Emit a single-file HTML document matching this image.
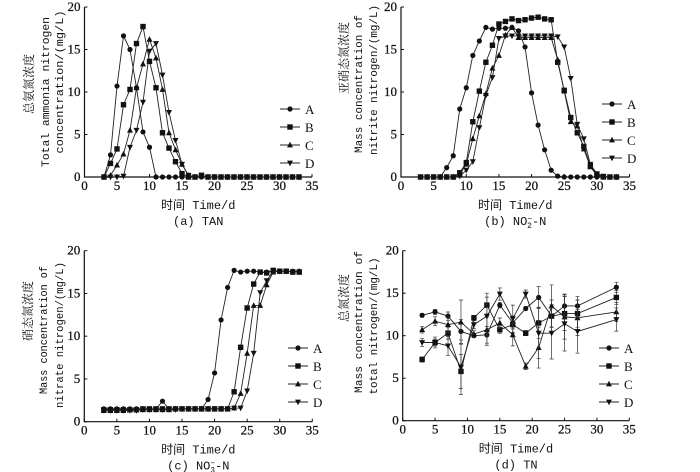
<!DOCTYPE html>
<html><head><meta charset="utf-8"><style>
body{margin:0;background:#fff}
svg{display:block}
text{font-family:"Liberation Serif","Noto Serif CJK SC",serif;fill:#111}
.m{font-family:"Liberation Mono","Noto Sans CJK SC",monospace}
.t{stroke:#111;stroke-width:0.25}
</style></head><body>
<svg id="c" width="700" height="472" viewBox="0 0 700 472" xmlns="http://www.w3.org/2000/svg"></svg>
<script>
const daysDaily = [3,4,5,6,7,8,9,10,11,12,13,14,15,16,17,18,19,20,21,22,23,24,25,26,27,28,29,30,31,32,33];
const daysTN = [3,5,7,9,11,13,15,17,19,21,23,25,27,33];
const seriesNames = ['A','B','C','D'];
const xTicks = [0,5,10,15,20,25,30,35];
const yTicks = [0,5,10,15,20];

const tanA = [0,2.6,10.7,16.6,15,10.5,5.3,3.5,0,0,0,0,0,0,0,0,0,0,0,0,0,0,0,0,0,0,0,0,0,0,0];
const tanB = [0,1.6,3.3,8.5,10.3,15.7,17.7,13.6,10.5,5.2,3.4,1.8,0.4,0,0,0.2,0,0,0,0,0,0,0,0,0,0,0,0,0,0,0];
const tanC = [0,0.2,1.4,2.7,5.5,10.5,13.3,16.2,14,10.3,5.2,3.2,1.5,0.2,0,0.1,0,0,0,0,0,0,0,0,0,0,0,0,0,0,0];
const tanD = [0,0,0,0.1,3.5,5.5,8.8,14.8,15.7,12,7.6,4.3,1.5,0.2,0,0.1,0,0,0,0,0,0,0,0,0,0,0,0,0,0,0];

const no2A = [0,0,0,0,1.1,2.5,8,10.5,14.3,16,17.6,17.4,17.5,17.5,17.6,17.2,15.3,9.9,6.1,3.2,0.8,0.1,0,0,0,0,0,0,0,0,0];
const no2B = [0,0,0,0,0,0,0.5,1.7,6.5,10.1,13.5,15.5,18,18.3,18.6,18.4,18.5,18.7,18.8,18.6,18.5,13.5,10.2,7,5.2,3.6,1.3,0.3,0,0,0];
const no2C = [0,0,0,0,0,0,0.3,1.5,4.5,7.2,9.8,12.8,14.3,16.7,17.6,16.4,16.4,16.4,16.4,16.4,16.4,13.8,10.1,6.5,6,3.3,1.2,0.2,0,0,0];
const no2D = [0,0,0,0,0,0,0.1,0.8,1.8,5.8,9.6,11.7,16.3,16.6,16.6,16.6,16.6,16.6,16.6,16.6,16.6,16.5,15.3,11.6,6.2,4.5,1.5,0.4,0.1,0,0];

const no3A = [1.5,1.5,1.5,1.5,1.5,1.5,1.5,1.5,1.5,2.4,1.5,1.5,1.5,1.5,1.5,1.5,2.6,5.7,11.9,15.7,17.7,17.5,17.6,17.6,17.5,17.5,17.6,17.6,17.6,17.6,17.6];
const no3B = [1.4,1.4,1.4,1.4,1.4,1.4,1.5,1.5,1.5,1.5,1.5,1.5,1.5,1.5,1.5,1.5,1.5,1.5,1.5,1.5,3.5,8.7,13.3,16.1,17.5,17.4,17.7,17.6,17.6,17.5,17.5];
const no3C = [1.3,1.3,1.3,1.3,1.4,1.4,1.4,1.4,1.4,1.4,1.4,1.5,1.5,1.5,1.5,1.5,1.5,1.5,1.5,1.5,1.6,3.3,8,13.6,13.6,16,17.5,17.6,17.6,17.5,17.5];
const no3D = [1.3,1.3,1.3,1.3,1.3,1.3,1.4,1.4,1.4,1.4,1.4,1.4,1.5,1.5,1.5,1.5,1.5,1.5,1.5,1.5,1.6,1.6,3.6,8,15.1,16.5,17.6,17.6,17.6,17.5,17.5];

const tnA = [12.4,12.8,12.3,10.5,10,10.1,13.6,11.5,13.2,14.5,12.3,13.5,13.5,15.7];
const tnB = [7.2,9.2,10.3,5.8,12.1,13.6,10.7,11.3,10.3,11.5,12.3,12.6,12.6,14.5];
const tnC = [10.7,11.7,11.3,11.6,10.2,10.7,11.5,10.1,6.4,8.6,13.5,12.2,12.1,12.8];
const tnD = [9.2,9.2,8.8,6.3,11.3,12.3,14.9,12,14.9,10.3,10.3,11.4,10.5,11.9];
const tnErr = [0.6,0.8,1.4,4,0.6,2.8,0.9,2,0.6,3.7,3.8,4,3.2,1.7];

const NS='http://www.w3.org/2000/svg';
const svg=document.getElementById('c');
function el(tag,attrs,parent){const e=document.createElementNS(NS,tag);for(const k in attrs)e.setAttribute(k,attrs[k]);(parent||svg).appendChild(e);return e;}
function txt(s,x,y,attrs,parent){const t=el('text',Object.assign({x:x,y:y},attrs||{}),parent);t.textContent=s;return t;}

function marker(g,type,x,y){
  let m;
  if(type==='A') m=el('circle',{cx:x,cy:y,r:2.6,fill:'#111'},g);
  else if(type==='B') m=el('rect',{x:x-2.7,y:y-2.7,width:5.4,height:5.4,fill:'#111'},g);
  else if(type==='C') m=el('polygon',{points:`${x},${y-3.2} ${x-3},${y+2.4} ${x+3},${y+2.4}`,fill:'#111'},g);
  else m=el('polygon',{points:`${x},${y+3.2} ${x-3},${y-2.4} ${x+3},${y-2.4}`,fill:'#111'},g);
  return m;
}

function panel(p){
  const g=el('g',{});
  
  
  const X=v=>p.x0+(v/35)*(p.x1-p.x0);
  const Y=v=>p.y0-(v/20)*(p.y0-p.y1);
  const ax=el('path',{d:`M${p.x0},${p.y1} L${p.x0},${p.y0} L${p.x1},${p.y0}`,stroke:'#111','stroke-width':1.2,fill:'none'},g);
  
  
  xTicks.forEach(t=>{
    el('line',{x1:X(t),x2:X(t),y1:p.y0,y2:p.y0-3,stroke:'#111','stroke-width':1},g);
    const l=txt(String(t),X(t),p.y0+13,{'font-size':13,'text-anchor':'middle',class:'t'},g);
    
    
  });
  yTicks.forEach(t=>{
    el('line',{x1:p.x0,x2:p.x0+3,y1:Y(t),y2:Y(t),stroke:'#111','stroke-width':1},g);
    const l=txt(String(t),p.x0-4,Y(t)+4,{'font-size':13,'text-anchor':'end',class:'t'},g);
    
    
  });
  p.series.forEach((s,i)=>{
    const sg=el('g',{},g);
    
    
    const pts=s.map((v,j)=>X(p.days[j])+','+Y(v)).join(' ');
    el('polyline',{points:pts,fill:'none',stroke:'#222','stroke-width':0.9},sg);
    s.forEach((v,j)=>{
      if(p.err){const e=p.err[j]*(0.35+0.15*i);const x=X(p.days[j]);
        el('path',{d:`M${x},${Y(v-e)} L${x},${Y(v+e)} M${x-2},${Y(v+e)} L${x+2},${Y(v+e)} M${x-2},${Y(v-e)} L${x+2},${Y(v-e)}`,stroke:'#333','stroke-width':0.7,fill:'none'},sg);}
      const m=marker(sg,seriesNames[i],X(p.days[j]),Y(v));
      
      
    });
  });
  seriesNames.forEach((n,i)=>{
    const ly=p.ly+i*18;
    const lg=el('g',{},g);
    
    
    el('line',{x1:p.lx,x2:p.lx+20,y1:ly,y2:ly,stroke:'#222','stroke-width':0.9},lg);
    marker(lg,n,p.lx+10,ly);
    txt(n,p.lx+25,ly+5,{'font-size':13},lg);
  });
  p.ytitle.forEach((s,i)=>{
    const L=p.tl[i];
    const attrs={'font-size':i===0?12:11,'text-anchor':'middle',class:i===0?'':'m',transform:`translate(${L[0]},${L[1]}) rotate(-90)`};
    if(i>0){attrs.textLength=L[3];attrs.lengthAdjust='spacingAndGlyphs';}
    const t=txt(s,0,0,attrs,g);
    
    
  });
  const xt=txt('时间 Time/d',(p.x0+p.x1)/2,p.y0+32,{'font-size':12,'text-anchor':'middle',class:'m'},g);
  
  
  const cap=el('text',{x:(p.x0+p.x1)/2,y:p.y0+48,'font-size':12,'text-anchor':'middle',class:'m'},g);
  cap.innerHTML=p.caption;
  
  
}

panel({name:'panel-tan',x0:84.5,x1:312,y0:177,y1:7,days:daysDaily,series:[tanA,tanB,tanC,tanD],lx:280,ly:109,
  ytitle:['总氨氮浓度','Total ammonia nitrogen','concentration/(mg/L)'],
  tl:[[33,84,0,0],[49,92,0,150],[63,82,0,143]],caption:'(a) TAN'});
panel({name:'panel-nitrite',x0:401,x1:629.5,y0:177,y1:7,days:daysDaily,series:[no2A,no2B,no2C,no2D],lx:602,ly:104,
  ytitle:['亚硝态氮浓度','Mass concentration of','nitrite nitrogen/(mg/L)'],
  tl:[[348,58,0,0],[362,84,0,138],[377,80,0,150]],caption:'(b) NO<tspan font-size="8" dy="-4">−</tspan><tspan font-size="8" dx="-5" dy="7">2</tspan><tspan dy="-3">-N</tspan>'});
panel({name:'panel-nitrate',x0:84.3,x1:312.3,y0:421.7,y1:250.7,days:daysDaily,series:[no3A,no3B,no3C,no3D],lx:288,ly:348,
  ytitle:['硝态氮浓度','Mass concentration of','nitrate nitrogen/(mg/L)'],
  tl:[[32,311,0,0],[47,330,0,128],[63,335,0,146]],caption:'(c) NO<tspan font-size="8" dy="-4">−</tspan><tspan font-size="8" dx="-5" dy="7">3</tspan><tspan dy="-3">-N</tspan>'});
panel({name:'panel-tn',x0:402.7,x1:629.3,y0:420.7,y1:250.7,days:daysTN,series:[tnA,tnB,tnC,tnD],err:tnErr,lx:599,ly:348,
  ytitle:['总氮浓度','Mass concentration of','total nitrogen/(mg/L)'],
  tl:[[348,298,0,0],[362,322,0,142],[377,326,0,137]],caption:'(d) TN'});
</script>
</body></html>
